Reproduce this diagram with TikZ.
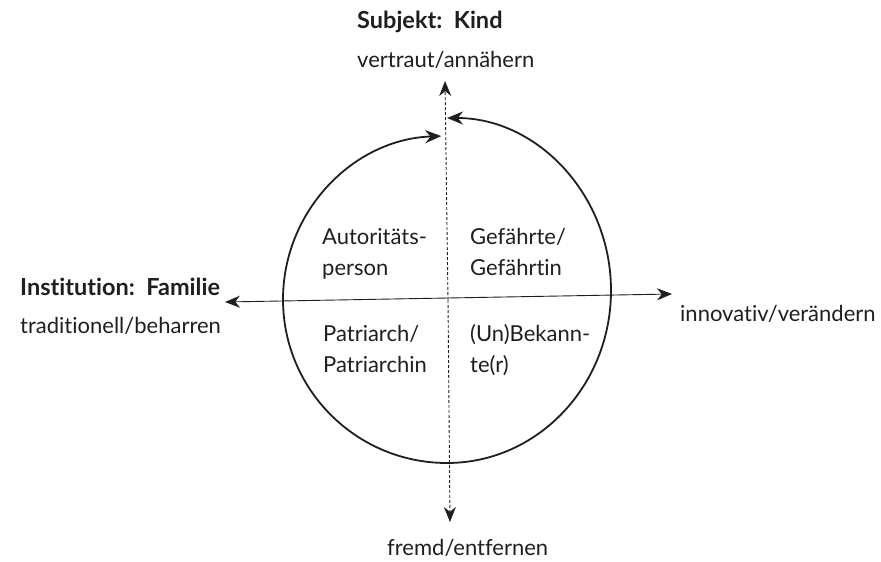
\documentclass[tikz,border=0pt]{standalone}
\usepackage{fontspec}
\setmainfont{Lato}[Ligatures=NoCommon]
\usetikzlibrary{arrows.meta}
\definecolor{ink}{gray}{0.12}
\tikzset{
  lbl/.style={font=\fontsize{22}{31}\selectfont, text=ink, inner sep=0pt, align=left},
  head/.style={font=\fontsize{23.5}{31}\selectfont\bfseries, text=ink, inner sep=0pt},
  axis/.style={draw=ink, line width=0.9pt, -{Stealth[length=15pt,width=12pt]}},
  vaxis/.style={axis, dash pattern=on 3pt off 2pt},
  ring/.style={draw=ink, line width=1.8pt, -{Stealth[length=16pt,width=13pt]}},
}
\begin{document}
\begin{tikzpicture}[x=1pt,y=1pt]
\useasboundingbox (0,0) rectangle (881,-562);
% axes
\coordinate (vtop) at (445,-81);
\coordinate (vbot) at (450,-522);
\coordinate (hleft) at (225,-302);
\coordinate (hright) at (672,-294);
\coordinate (vstart) at (448,-300);
\coordinate (hstart) at (448,-298);
\draw[vaxis] (vstart) -- (vtop);
\draw[vaxis] (vstart) -- (vbot);
\draw[axis] (hstart) -- (hleft);
\draw[axis] (hstart) -- (hright);
% ring arcs
\coordinate (bot) at (447,-463);
\draw[ring] (bot) arc[start angle=-90, end angle=90, x radius=164, y radius=172.5];
\draw[ring] (bot) arc[start angle=270, end angle=92, x radius=164, y radius=163.5];
% headings
\node[head, anchor=base west] (kind) at (357,-28) {Subjekt: \,Kind};
\node[lbl, anchor=base west] (vertraut) at (357,-67) {vertraut/annähern};
\node[head, anchor=base west] (fam) at (20,-295) {Institution: \,Familie};
\node[lbl, anchor=base west] (trad) at (20,-333) {traditionell/beharren};
\node[lbl, anchor=base west] (inno) at (680,-321) {innovativ/verändern};
\node[lbl, anchor=base west] (fremd) at (387,-555) {fremd/entfernen};
% quadrants (base = baseline of last line)
\node[lbl, anchor=base west] (q1) at (322,-275) {Autoritäts-\\person};
\node[lbl, anchor=base west] (q2) at (470,-275) {Gefährte/\\Gefährtin};
\node[lbl, anchor=base west] (q3) at (323,-372) {Patriarch/\\Patriarchin};
\node[lbl, anchor=base west] (q4) at (470,-372) {(Un)Bekann-\\te(r)};
\end{tikzpicture}
\end{document}
